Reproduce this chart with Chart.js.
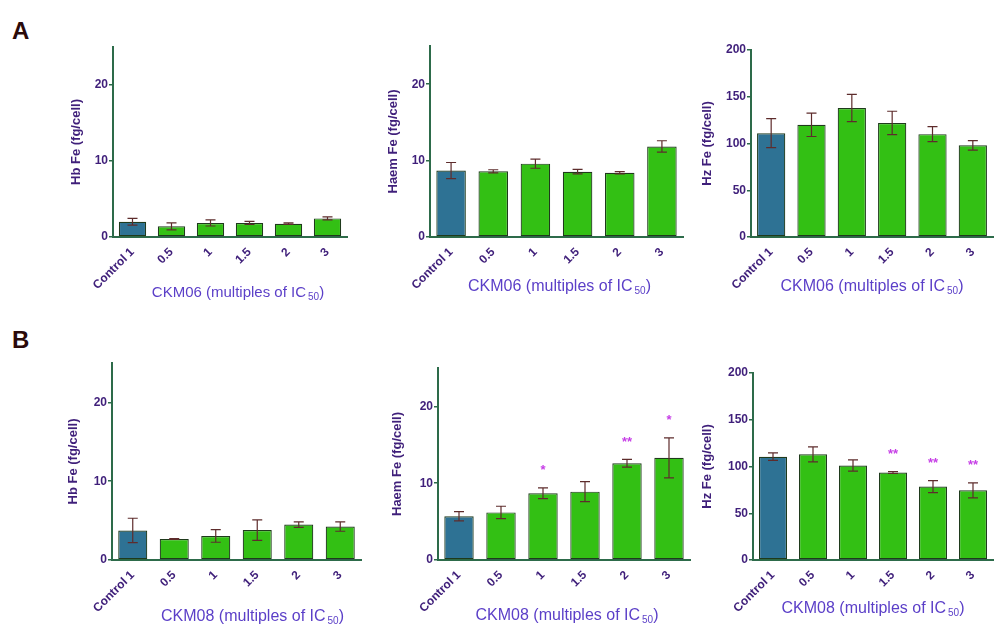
<!DOCTYPE html>
<html>
<head>
<meta charset="utf-8">
<script src="https://cdn.jsdelivr.net/npm/chart.js@4.4.1/dist/chart.umd.min.js"></script>
<style>
  body { margin: 0; background: #fff; }
  #page { position: relative; width: 996px; height: 631px; overflow: hidden; }
  .panel { position: absolute; }
  .letter { position: absolute; font: bold 24px "Liberation Sans", Arial, sans-serif; color: #2b0a0a; }
</style>
</head>
<body>
<div id="page">
  <div class="letter" style="left:12px; top:17px;">A</div>
  <div class="letter" style="left:12px; top:326px;">B</div>
</div>
<script>
// categories shared by all panels
const categories = ['Control 1', '0.5', '1', '1.5', '2', '3'];

// A: CKM06
const a1Mean = [2.0, 1.4, 1.85, 1.85, 1.75, 2.45];
const a1Err  = [0.45, 0.45, 0.4, 0.2, 0.1, 0.2];
const a2Mean = [8.7, 8.6, 9.6, 8.55, 8.4, 11.85];
const a2Err  = [1.05, 0.2, 0.6, 0.3, 0.15, 0.75];
const a3Mean = [111, 120, 138, 122, 110, 98];
const a3Err  = [15.5, 12.5, 14.5, 12.5, 8, 5];

// B: CKM08
const b1Mean = [3.75, 2.65, 3.05, 3.8, 4.5, 4.25];
const b1Err  = [1.55, 0.05, 0.8, 1.3, 0.35, 0.6];
const b2Mean = [5.7, 6.2, 8.7, 8.9, 12.6, 13.3];
const b2Err  = [0.6, 0.8, 0.7, 1.3, 0.5, 2.6];
const b2Sig  = ['', '', '*', '', '**', '*'];
const b3Mean = [110.5, 113, 101, 93.5, 78.5, 74.5];
const b3Err  = [4, 8, 6, 1, 6.5, 8];
const b3Sig  = ['', '', '', '**', '**', '**'];

const FONT = '"Liberation Sans", Arial, sans-serif';
const AXIS = '#2d6b4a';
const TICK = '#3f1f7a';
const XTITLE = '#5b3fc8';
const CONTROL = '#2e7294';
const GREEN = '#33c014';
const ERR = '#5e2c2c';
const STAR = '#c63ee6';

const panels = [
  { means: a1Mean, errs: a1Err, sig: null, yMax: 25, step: 10, yTitle: 'Hb Fe (fg/cell)', drug: 'CKM06',
    area: { left: 113, right: 347, top: 47, bottom: 237 }, yDx: -37, xDx: 8, xDy: 56, xSize: 15 },
  { means: a2Mean, errs: a2Err, sig: null, yMax: 25, step: 10, yTitle: 'Haem Fe (fg/cell)', drug: 'CKM06',
    area: { left: 430, right: 683, top: 46, bottom: 237 }, yDx: -37, xDx: 3, xDy: 50, xSize: 16 },
  { means: a3Mean, errs: a3Err, sig: null, yMax: 200, step: 50, yTitle: 'Hz Fe (fg/cell)', drug: 'CKM06',
    area: { left: 751, right: 993, top: 50, bottom: 237 }, yDx: -44, xDx: 0, xDy: 50, xSize: 16 },
  { means: b1Mean, errs: b1Err, sig: null, yMax: 25, step: 10, yTitle: 'Hb Fe (fg/cell)', drug: 'CKM08',
    area: { left: 112, right: 361, top: 363, bottom: 560 }, yDx: -39, xDx: 16, xDy: 57, xSize: 16 },
  { means: b2Mean, errs: b2Err, sig: b2Sig, yMax: 25, step: 10, yTitle: 'Haem Fe (fg/cell)', drug: 'CKM08',
    area: { left: 438, right: 690, top: 368, bottom: 560 }, yDx: -41, xDx: 3, xDy: 56, xSize: 16 },
  { means: b3Mean, errs: b3Err, sig: b3Sig, yMax: 200, step: 50, yTitle: 'Hz Fe (fg/cell)', drug: 'CKM08',
    area: { left: 753, right: 993, top: 373, bottom: 560 }, yDx: -46, xDx: 0, xDy: 49, xSize: 16 }
];

const PAD_L = 70, PAD_T = 12, PAD_R = 3, PAD_B = 70;

// error bars, significance stars and axis titles
const extrasPlugin = {
  id: 'extras',
  afterDatasetsDraw(chart, args, opts) {
    const p = opts.panel;
    const ctx = chart.ctx;
    const y = chart.scales.y;
    const area = chart.chartArea;
    const meta = chart.getDatasetMeta(0);

    ctx.save();
    ctx.strokeStyle = ERR;
    ctx.lineWidth = 1.2;
    p.means.forEach((m, i) => {
      const cx = meta.data[i].x;
      const yt = y.getPixelForValue(m + p.errs[i]);
      const yb = y.getPixelForValue(m - p.errs[i]);
      ctx.beginPath();
      ctx.moveTo(cx, yt); ctx.lineTo(cx, yb);
      ctx.moveTo(cx - 5, yt); ctx.lineTo(cx + 5, yt);
      ctx.moveTo(cx - 5, yb); ctx.lineTo(cx + 5, yb);
      ctx.stroke();
    });

    if (p.sig) {
      ctx.fillStyle = STAR;
      ctx.font = 'bold 13px ' + FONT;
      ctx.textAlign = 'center';
      ctx.textBaseline = 'middle';
      p.sig.forEach((s, i) => {
        if (!s) return;
        const cx = meta.data[i].x;
        const yt = y.getPixelForValue(p.means[i] + p.errs[i]);
        ctx.fillText(s, cx, yt - 17);
      });
    }

    // y title
    ctx.fillStyle = TICK;
    ctx.font = 'bold 13px ' + FONT;
    ctx.textAlign = 'center';
    ctx.textBaseline = 'middle';
    ctx.translate(area.left + p.yDx, (area.top + area.bottom) / 2);
    ctx.rotate(-Math.PI / 2);
    ctx.fillText(p.yTitle, 0, 0);
    ctx.setTransform(1, 0, 0, 1, 0, 0);

    // x title with subscript
    const main = p.drug + ' (multiples of IC';
    const sub = '50';
    const tail = ')';
    const big = p.xSize + 'px ' + FONT;
    const small = Math.round(p.xSize * 0.65) + 'px ' + FONT;
    ctx.font = big;
    const w1 = ctx.measureText(main).width + 2;
    const w3 = ctx.measureText(tail).width;
    ctx.font = small;
    const w2 = ctx.measureText(sub).width;
    const total = w1 + w2 + w3;
    let tx = (area.left + area.right) / 2 + p.xDx - total / 2;
    const ty = area.bottom + p.xDy;
    ctx.fillStyle = XTITLE;
    ctx.textAlign = 'left';
    ctx.textBaseline = 'middle';
    ctx.font = big;
    ctx.fillText(main, tx, ty);
    tx += w1;
    ctx.font = small;
    ctx.fillText(sub, tx, ty + 4);
    tx += w2;
    ctx.font = big;
    ctx.fillText(tail, tx, ty);
    ctx.restore();
  }
};

const page = document.getElementById('page');

panels.forEach(p => {
  const a = p.area;
  const w = a.right - a.left + PAD_L + PAD_R;
  const h = a.bottom - a.top + PAD_T + PAD_B;
  const div = document.createElement('div');
  div.className = 'panel';
  div.style.left = (a.left - PAD_L) + 'px';
  div.style.top = (a.top - PAD_T) + 'px';
  const canvas = document.createElement('canvas');
  canvas.width = w;
  canvas.height = h;
  canvas.style.width = w + 'px';
  canvas.style.height = h + 'px';
  div.appendChild(canvas);
  page.appendChild(div);

  new Chart(canvas.getContext('2d'), {
    type: 'bar',
    data: {
      labels: categories,
      datasets: [{
        data: p.means,
        backgroundColor: c => c.dataIndex === 0 ? CONTROL : GREEN,
        borderColor: '#1f3a1c',
        borderWidth: 1.2,
        borderSkipped: false,
        barPercentage: 0.7,
        categoryPercentage: 1
      }]
    },
    options: {
      responsive: false,
      animation: false,
      devicePixelRatio: 1,
      layout: { padding: { top: PAD_T, right: PAD_R, left: 0, bottom: 0 } },
      plugins: {
        legend: { display: false },
        tooltip: { enabled: false },
        extras: { panel: p }
      },
      scales: {
        x: {
          grid: { display: false },
          border: { display: true, color: AXIS, width: 2 },
          ticks: {
            color: TICK,
            font: { family: FONT, size: 12, weight: 'bold' },
            minRotation: 45,
            maxRotation: 45,
            autoSkip: false,
            padding: 0
          },
          afterFit(s) { s.height = PAD_B; s.paddingLeft = 0; s.paddingRight = 0; }
        },
        y: {
          min: 0,
          max: p.yMax,
          grid: { display: true, drawOnChartArea: false, drawTicks: true, tickLength: 4, color: AXIS, lineWidth: 1.5 },
          border: { display: true, color: AXIS, width: 2 },
          ticks: {
            stepSize: p.step,
            color: TICK,
            font: { family: FONT, size: 12, weight: 'bold' },
            padding: 1
          },
          afterBuildTicks(s) { s.ticks = s.ticks.filter(t => t.value % p.step === 0); },
          afterFit(s) { s.width = PAD_L; s.paddingTop = 0; s.paddingBottom = 0; }
        }
      }
    },
    plugins: [extrasPlugin]
  });
});
</script>
</body>
</html>
